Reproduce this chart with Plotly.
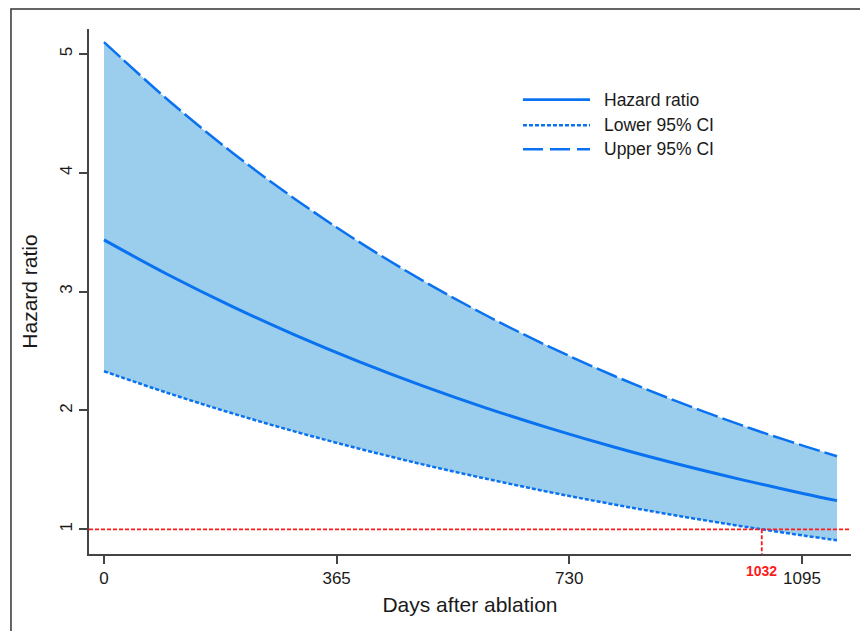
import plotly.graph_objects as go

# Days after ablation at which the curves are evaluated
days = [0, 100, 200, 300, 400, 500, 600, 700, 800, 900, 1000, 1032, 1100, 1150]

# Time-varying hazard ratio with its 95% confidence limits
hazard_ratio = [3.435, 3.144, 2.878, 2.634, 2.411, 2.207, 2.020, 1.849, 1.692, 1.549, 1.418, 1.379, 1.297, 1.241]
lower_ci = [2.330, 2.147, 1.978, 1.822, 1.679, 1.546, 1.425, 1.312, 1.209, 1.114, 1.026, 1.000, 0.945, 0.908]
upper_ci = [5.100, 4.615, 4.175, 3.778, 3.419, 3.093, 2.799, 2.533, 2.292, 2.074, 1.876, 1.817, 1.698, 1.615]

x_ticks = [0, 365, 730, 1095]
y_ticks = [1, 2, 3, 4, 5]
crossing_day = 1032

legend_labels = ["Hazard ratio", "Lower 95% CI", "Upper 95% CI"]

LINE_BLUE = "#0a72f0"
FILL_BLUE = "#9bcdec"
RED = "#ff1a1a"
FONT = "Liberation Sans, Arial, sans-serif"

fig = go.Figure()

# Shaded confidence band
fig.add_trace(go.Scatter(x=days, y=lower_ci, mode="lines", line=dict(width=0, shape="spline"),
                         showlegend=False, hoverinfo="skip"))
fig.add_trace(go.Scatter(x=days, y=upper_ci, mode="lines", line=dict(width=0, shape="spline"),
                         fill="tonexty", fillcolor=FILL_BLUE, showlegend=False, hoverinfo="skip"))

# Curves
fig.add_trace(go.Scatter(x=days, y=lower_ci, mode="lines", name=legend_labels[1],
                         line=dict(color=LINE_BLUE, width=2.5, dash="4px,2px", shape="spline"),
                         showlegend=False))
fig.add_trace(go.Scatter(x=days, y=upper_ci, mode="lines", name=legend_labels[2],
                         line=dict(color=LINE_BLUE, width=2.5, dash="22px,5px", shape="spline"),
                         showlegend=False))
fig.add_trace(go.Scatter(x=days, y=hazard_ratio, mode="lines", name=legend_labels[0],
                         line=dict(color=LINE_BLUE, width=3, shape="spline"),
                         showlegend=False))

shapes = []
# Reference line at HR = 1 and the day where the lower limit crosses it
shapes.append(dict(type="line", xref="paper", yref="y", x0=0, x1=1, y0=1, y1=1,
                   line=dict(color=RED, width=1.8, dash="4px,2px"), layer="above"))
shapes.append(dict(type="line", xref="x", yref="y", x0=crossing_day, x1=crossing_day,
                   y0=1, y1=0.792, line=dict(color=RED, width=1.8, dash="4px,2px"), layer="above"))

# Custom legend
legend_dash = ["solid", "4px,2px", "20px,7px"]
legend_width = [2.8, 2.5, 2.5]
legend_y = [0.8655, 0.8168, 0.7710]
for dsh, w, ly in zip(legend_dash, legend_width, legend_y):
    shapes.append(dict(type="line", xref="paper", yref="paper", x0=0.5695, x1=0.6575, y0=ly, y1=ly,
                       line=dict(color=LINE_BLUE, width=w, dash=dsh)))

# Outer frame
shapes.append(dict(type="rect", xref="paper", yref="paper", x0=-0.1024, x1=1.03, y0=-0.17, y1=1.0381,
                   line=dict(color="#333333", width=1.5), fillcolor="rgba(0,0,0,0)", layer="below"))

annotations = []
for lab, ly in zip(legend_labels, legend_y):
    annotations.append(dict(text=lab, xref="paper", yref="paper", x=0.6735, y=ly, xanchor="left",
                            yanchor="middle", showarrow=False, font=dict(size=17.5, color="#1a1a1a", family=FONT)))
annotations.append(dict(text="<b>1032</b>", xref="x", yref="paper", x=crossing_day, y=-0.0324,
                        xanchor="center", yanchor="middle", showarrow=False,
                        font=dict(size=14, color=RED, family=FONT)))

fig.update_layout(
    width=860, height=631,
    margin=dict(l=89, r=9, t=29, b=77),
    paper_bgcolor="white", plot_bgcolor="white",
    font=dict(family=FONT, color="#1a1a1a"),
    shapes=shapes, annotations=annotations,
    showlegend=False,
)
fig.update_xaxes(
    range=[-23.5, 1172], tickvals=x_ticks, ticktext=[str(t) for t in x_ticks],
    showgrid=False, zeroline=False, showline=True, linecolor="#444444", linewidth=1.5,
    ticks="outside", ticklen=8, tickwidth=1.5, tickcolor="#444444",
    tickfont=dict(size=17, family=FONT, color="#1a1a1a"),
    title=dict(text="Days after ablation", font=dict(size=21, family=FONT, color="#1a1a1a"), standoff=10),
)
fig.update_yaxes(
    range=[0.792, 5.21], tickvals=y_ticks, ticktext=[str(t) for t in y_ticks], tickangle=-90,
    showgrid=False, zeroline=False, showline=True, linecolor="#444444", linewidth=1.5,
    ticks="outside", ticklen=8, tickwidth=1.5, tickcolor="#444444",
    tickfont=dict(size=17, family=FONT, color="#1a1a1a"),
    title=dict(text="Hazard ratio", font=dict(size=21, family=FONT, color="#1a1a1a"), standoff=14),
)

fig.write_html("out.html")
